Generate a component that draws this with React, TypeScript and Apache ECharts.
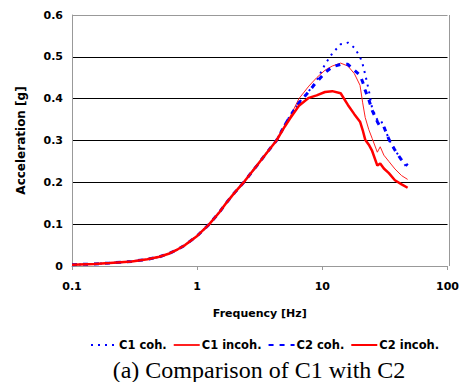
import React, { useEffect, useRef } from "react";
import * as echarts from "echarts";

const frequencies = [0.1, 0.15, 0.2, 0.3, 0.4, 0.5, 0.6, 0.7, 0.8, 1.0, 1.25, 1.5, 1.7, 2.0, 2.4, 3.0, 3.5, 4.3, 5.0, 5.5, 6.5, 7.8, 9.0, 10.5, 12, 14, 16, 18, 20, 21, 22, 23.5, 25, 27.5, 29, 31, 34, 38, 43, 48];

const lowPart = [0.003, 0.005, 0.007, 0.011, 0.016, 0.022, 0.030, 0.040, 0.050, 0.072, 0.100, 0.128, 0.150, 0.176, 0.203, 0.240, 0.266, 0.300];

const c1CohHigh = [0.338, 0.358, 0.390, 0.418, 0.443, 0.482, 0.508, 0.530, 0.534, 0.522, 0.500, 0.482, 0.458, 0.420, 0.377, 0.349, 0.350, 0.335, 0.303, 0.277, 0.254, 0.232];
const c1IncohHigh = [0.334, 0.356, 0.400, 0.430, 0.450, 0.468, 0.478, 0.485, 0.478, 0.460, 0.432, 0.390, 0.355, 0.326, 0.305, 0.272, 0.285, 0.265, 0.250, 0.232, 0.216, 0.207];
const c2CohHigh = [0.336, 0.357, 0.390, 0.417, 0.440, 0.462, 0.476, 0.482, 0.482, 0.468, 0.456, 0.440, 0.420, 0.398, 0.372, 0.345, 0.333, 0.333, 0.303, 0.277, 0.253, 0.240];
const c2IncohHigh = [0.333, 0.352, 0.383, 0.402, 0.408, 0.416, 0.418, 0.413, 0.385, 0.363, 0.345, 0.325, 0.302, 0.290, 0.275, 0.240, 0.245, 0.233, 0.222, 0.205, 0.195, 0.187];

const c1Coh = [...lowPart, ...c1CohHigh];
const c1Incoh = [...lowPart, ...c1IncohHigh];
const c2Coh = [...lowPart, ...c2CohHigh];
const c2Incoh = [...lowPart, ...c2IncohHigh];

const seriesNames = ["C1 coh.", "C1 incoh.", "C2 coh.", "C2 incoh."];
const xTicks = ["0.1", "1", "10", "100"];
const captionText = "(a) Comparison of C1 with C2";

const pairs = (vals: number[]) => frequencies.map((f, i) => [f, vals[i]]);

export default function App() {
  const ref = useRef<HTMLDivElement>(null);
  useEffect(() => {
    if (!ref.current) return;
    const chart = echarts.init(ref.current, null, { renderer: "svg" });
    const font = "DejaVu Sans";
    chart.setOption({
      animation: false,
      backgroundColor: "#fff",
      grid: { left: 72, right: 13, top: 15, bottom: 116, show: false },
      legend: {
        top: 334,
        left: 85,
        itemWidth: 26,
        itemHeight: 10,
        itemGap: 6,
        data: seriesNames,
        itemStyle: { opacity: 0 },
        textStyle: { fontFamily: font, fontWeight: "bold", fontSize: 11.5, color: "#000", padding: [0, 0, 0, -3] },
      },
      xAxis: {
        type: "log",
        logBase: 10,
        min: 0.1,
        max: 100,
        name: "Frequency [Hz]",
        nameLocation: "middle",
        nameGap: 42,
        nameTextStyle: { fontFamily: font, fontWeight: "bold", fontSize: 11, color: "#000" },
        axisLine: { show: true, lineStyle: { color: "#999", width: 1 } },
        axisTick: { show: true, length: 4, inside: false, lineStyle: { color: "#999" } },
        minorTick: { show: false },
        splitLine: { show: false },
        axisLabel: {
          fontFamily: font,
          fontWeight: "bold",
          fontSize: 11,
          color: "#000",
          margin: 15,
          formatter: (v: number) => {
            const s = xTicks.find((t) => Math.abs(parseFloat(t) - v) < 1e-6 * Math.max(1, v));
            return s ?? String(v);
          },
        },
      },
      yAxis: {
        type: "value",
        min: 0,
        max: 0.6,
        interval: 0.1,
        name: "Acceleration [g]",
        nameLocation: "middle",
        nameGap: 45,
        nameTextStyle: { fontFamily: font, fontWeight: "bold", fontSize: 12, color: "#000" },
        axisLine: { show: true, lineStyle: { color: "#999", width: 1 } },
        axisTick: { show: false },
        splitLine: {
          show: true,
          lineStyle: { color: ["#999", "#000", "#000", "#000", "#000", "#000", "#999"], width: 1 },
        },
        axisLabel: {
          fontFamily: font,
          fontWeight: "bold",
          fontSize: 11,
          color: "#000",
          margin: 9,
          formatter: (v: number) => (v === 0 ? "0" : v.toFixed(1)),
        },
      },
      graphic: [
        { type: "line", shape: { x1: 449.5, y1: 15, x2: 449.5, y2: 266 }, style: { stroke: "#999", lineWidth: 1 }, silent: true },
        {
          type: "text",
          x: 259,
          y: 370,
          style: { text: captionText, font: "24px 'Liberation Serif'", fill: "#000", textAlign: "center", textVerticalAlign: "middle" },
        },
      ],
      series: [
        {
          name: seriesNames[0],
          type: "line",
          data: pairs(c1Coh),
          symbol: "none",
          lineStyle: { color: "#0000ff", width: 2, type: [2, 5] },
          itemStyle: { color: "#0000ff" },
        },
        {
          name: seriesNames[1],
          type: "line",
          data: pairs(c1Incoh),
          symbol: "none",
          lineStyle: { color: "#ff2020", width: 1 },
          itemStyle: { color: "#ff2020" },
        },
        {
          name: seriesNames[2],
          type: "line",
          data: pairs(c2Coh),
          symbol: "none",
          lineStyle: { color: "#0000ff", width: 3, type: [5, 6] },
          itemStyle: { color: "#0000ff" },
        },
        {
          name: seriesNames[3],
          type: "line",
          data: pairs(c2Incoh),
          symbol: "none",
          lineStyle: { color: "#ff0000", width: 2.5 },
          itemStyle: { color: "#ff0000" },
        },
      ],
    });
    return () => chart.dispose();
  }, []);
  return <div ref={ref} style={{ position: "fixed", left: 0, top: 0, width: 462, height: 382 }} />;
}
